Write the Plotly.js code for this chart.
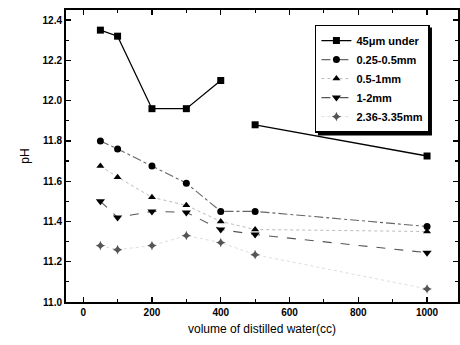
<!DOCTYPE html>
<html><head><meta charset="utf-8">
<script src="https://cdn.plot.ly/plotly-3.0.1.min.js"></script>
<style>body{margin:0;background:#fff}#c{width:460px;height:345px}</style>
</head><body><div id="c"></div>
<script>
var volumes = [50, 100, 200, 300, 400, 500, 1000];
var names = ["45μm under", "0.25-0.5mm", "0.5-1mm", "1-2mm", "2.36-3.35mm"];
var ph45 = [12.35, 12.32, 11.96, 11.96, 12.10, 11.88, 11.725];
var ph025 = [11.80, 11.76, 11.675, 11.59, 11.45, 11.45, 11.375];
var ph05 = [11.675, 11.62, 11.52, 11.48, 11.40, 11.36, 11.35];
var ph1 = [11.50, 11.42, 11.45, 11.445, 11.36, 11.335, 11.245];
var ph236 = [11.28, 11.26, 11.28, 11.33, 11.295, 11.235, 11.065];
var xTicks = [0, 200, 400, 600, 800, 1000];
var yTicks = [11.0, 11.2, 11.4, 11.6, 11.8, 12.0, 12.2, 12.4];

// the 45um series has a break between 400 and 500
function withBreak(xs, ys, afterIdx){
  var x=[], y=[];
  for (var i=0;i<xs.length;i++){ x.push(xs[i]); y.push(ys[i]); if(i===afterIdx){x.push(null);y.push(null);} }
  return {x:x,y:y};
}
var b = withBreak(volumes, ph45, 4);

var traces = [
  {x:b.x, y:b.y, name:names[0], mode:'lines+markers', connectgaps:false,
   line:{color:'#000', width:1.3}, marker:{symbol:'square', size:7, color:'#000'}},
  {x:volumes, y:ph025, name:names[1], mode:'lines+markers',
   line:{color:'#666', width:1.1, dash:'dashdot'}, marker:{symbol:'circle', size:7, color:'#000'}},
  {x:volumes, y:ph05, name:names[2], mode:'lines+markers',
   line:{color:'#bbb', width:1, dash:'dot'}, marker:{symbol:'triangle-up', size:7, color:'#000'}},
  {x:volumes, y:ph1, name:names[3], mode:'lines+markers',
   line:{color:'#555', width:1.1, dash:'dash'}, marker:{symbol:'triangle-down', size:8, color:'#000'}},
  {x:volumes, y:ph236, name:names[4], mode:'lines+markers',
   line:{color:'#ddd', width:1, dash:'dot'}, marker:{symbol:'star-diamond', size:7, color:'#555'}}
];

var FONT = 'Liberation Sans, Arial';
var LEG_SIZE = 11;
var tickFont = {family:FONT, size:10, color:'#000', weight:'bold'};
var ML=66, MR=2, MT=10, MB=43, W=460, H=345;
var pw = W-ML-MR, ph = H-MT-MB;
var legX = 0.635, legY = 0.95, legBW = 1.5;

// estimate legend box size (Plotly: width = text + 5 + itemwidth+10 + 2*bw, height = n*19 + 2*(bw+5))
var cv = document.createElement('canvas').getContext('2d');
cv.font = 'bold ' + LEG_SIZE + 'px "Liberation Sans"';
var maxW = 0;
names.forEach(function(n){ maxW = Math.max(maxW, cv.measureText(n).width); });
var legW = maxW + 5 + 40 + 2*legBW;
var legH = names.length*19 + 2*(legBW+5);
var legLeft = ML + legX*pw, legTop = MT + (1-legY)*ph, off = 3;

var layout = {
  width:W, height:H,
  margin:{l:ML, r:MR, t:MT, b:MB},
  paper_bgcolor:'#ffffff', plot_bgcolor:'#ffffff',
  showlegend:true,
  xaxis:{range:[-50,1090], tickvals:xTicks, ticktext:xTicks.map(String),
    ticks:'inside', ticklen:5, tickwidth:1.2, tickcolor:'#000',
    minor:{dtick:100, tick0:0, ticks:'inside', ticklen:3, tickcolor:'#000'},
    showline:true, linecolor:'#000', linewidth:2, mirror:'allticks', zeroline:false, showgrid:false,
    tickfont:tickFont,
    title:{text:'volume of distilled water(cc)', font:{family:FONT, size:12, color:'#000000'}, standoff:8}},
  yaxis:{range:[11.0,12.45], tickvals:yTicks, ticktext:yTicks.map(function(v){return v.toFixed(1);}),
    ticks:'inside', ticklen:5, tickwidth:1.2, tickcolor:'#000',
    minor:{dtick:0.1, tick0:11, ticks:'inside', ticklen:3, tickcolor:'#000'},
    showline:true, linecolor:'#000', linewidth:2, mirror:'allticks', zeroline:false, showgrid:false,
    tickfont:tickFont,
    title:{text:'pH', font:{family:FONT, size:12, color:'#000000'}, standoff:10}},
  legend:{x:legX, y:legY, xanchor:'left', yanchor:'top', bgcolor:'#fff',
    bordercolor:'#000', borderwidth:legBW, tracegroupgap:0, itemwidth:30,
    font:{family:FONT, size:LEG_SIZE, color:'#000', weight:'bold'}},
  // drop shadow behind the legend box
  shapes:[{type:'rect', xref:'paper', yref:'paper',
    x0:(legLeft+off-ML)/pw, x1:(legLeft+legW+off-ML)/pw,
    y0:(H-MB-(legTop+legH+off))/ph, y1:(H-MB-(legTop+off))/ph,
    fillcolor:'#000', line:{width:0}, layer:'above'}]
};
Plotly.newPlot('c', traces, layout, {displayModeBar:false, staticPlot:true});
</script></body></html>
